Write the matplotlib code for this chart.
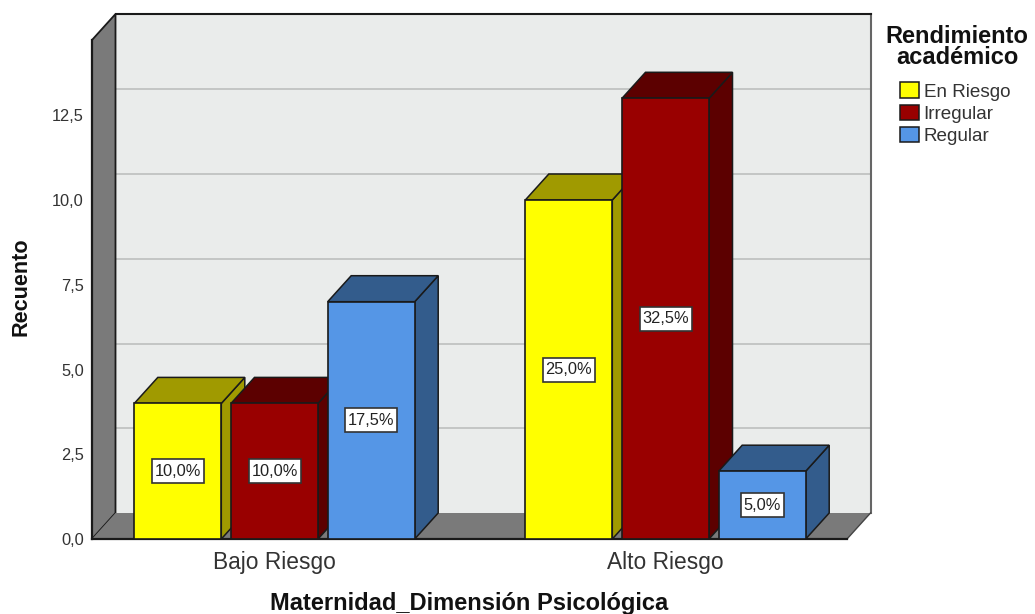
import matplotlib
matplotlib.use("Agg")
import matplotlib.pyplot as plt
from matplotlib.patches import Polygon, Rectangle, Patch

plt.rcParams['font.family'] = ['Liberation Sans', 'DejaVu Sans']

categories = ["Bajo Riesgo", "Alto Riesgo"]
series = ["En Riesgo", "Irregular", "Regular"]
en_riesgo = [4, 10]
irregular = [4, 13]
regular = [7, 2]
pct_en_riesgo = ["10,0%", "25,0%"]
pct_irregular = ["10,0%", "32,5%"]
pct_regular = ["17,5%", "5,0%"]
y_ticks = [0, 2.5, 5, 7.5, 10, 12.5]
y_labels = ["0,0", "2,5", "5,0", "7,5", "10,0", "12,5"]

W, H = 1035, 614
fig = plt.figure(figsize=(W / 100, H / 100), dpi=100)
L, R, T, B = 92, 847, 40, 539
ax = fig.add_axes([L / W, 1 - B / H, (R - L) / W, (B - T) / H])

unit_x = 391.0
unit_y = 33.9
ax.set_xlim((L - 274.5) / unit_x, (R - 274.5) / unit_x)
ax.set_ylim(0, (B - T) / unit_y)
x0, x1 = ax.get_xlim()
y1 = ax.get_ylim()[1]
dx = 23.5 / unit_x
dy = 26 / unit_y
bw = 87 / unit_x
step = 96.7 / unit_x

EDGE = "#1a1a1a"
kw = dict(clip_on=False)
# back wall, side wall, floor
ax.add_patch(Rectangle((x0 + dx, dy), x1 - x0, y1, fc="#EAECEB", ec="none", zorder=1, **kw))
ax.add_patch(Polygon([(x0, 0), (x0 + dx, dy), (x0 + dx, y1 + dy), (x0, y1)], fc="#7A7A7A", ec=EDGE, lw=1.3, zorder=2, **kw))
ax.add_patch(Polygon([(x0, 0), (x1, 0), (x1 + dx, dy), (x0 + dx, dy)], fc="#7A7A7A", ec="none", zorder=2, **kw))
for t in y_ticks[1:]:
    ax.plot([x0 + dx, x1 + dx], [t + dy, t + dy], color="#BDBFBE", lw=1.2, zorder=1.5, **kw)
ax.plot([x0 + dx, x1 + dx], [y1 + dy, y1 + dy], color=EDGE, lw=1.5, zorder=3, **kw)
ax.plot([x1 + dx, x1 + dx], [dy, y1 + dy], color="#666666", lw=1.5, zorder=1.6, **kw)
ax.plot([x1, x1 + dx], [0, dy], color="#444444", lw=1, zorder=2.5, **kw)

styles = [
    (en_riesgo, pct_en_riesgo, "#FFFF00", "#A09A00"),
    (irregular, pct_irregular, "#990000", "#5C0000"),
    (regular, pct_regular, "#5596E6", "#335C8C"),
]
box_w = 52 / unit_x
box_h = 24 / unit_y
z = 4
for c in range(len(categories)):
    for s, (vals, pcts, front, dark) in enumerate(styles):
        v = vals[c]
        left = c + (s - 1) * step - bw / 2
        right = left + bw
        mid = left + bw / 2
        ax.add_patch(Polygon([(right, 0), (right + dx, dy), (right + dx, v + dy), (right, v)], fc=dark, ec=EDGE, lw=1.1, zorder=z, **kw))
        ax.add_patch(Polygon([(left, v), (right, v), (right + dx, v + dy), (left + dx, v + dy)], fc=dark, ec=EDGE, lw=1.1, zorder=z, **kw))
        ax.bar(mid, v, width=bw, color=front, edgecolor=EDGE, linewidth=1.2, zorder=z + 0.1, clip_on=False)
        w = box_w if len(pcts[c]) > 4 else 43 / unit_x
        ax.add_patch(Rectangle((mid - w / 2, v / 2 - box_h / 2), w, box_h, fc="white", ec="#333333", lw=1.2, zorder=49, **kw))
        ax.text(mid, v / 2, pcts[c], ha="center", va="center", fontsize=11.8, color="#222222", zorder=50)
        z += 1

ax.set_xticks(range(len(categories)), categories, fontsize=16.4, color="#333333")
ax.set_yticks(y_ticks, y_labels, fontsize=11.8, color="#333333")
ax.tick_params(axis="y", length=0, pad=6)
ax.tick_params(axis="x", length=0, pad=8.5)
ax.set_xlabel("Maternidad_Dimensión Psicológica", fontsize=17, fontweight="bold", color="#111111")
ax.xaxis.set_label_coords(0.5, -(592 - B) / (B - T))
ax.xaxis.label.set_verticalalignment("top")
ax.set_ylabel("Recuento", fontsize=15.6, fontweight="bold", color="#111111")
ax.yaxis.set_label_coords((21.5 - L) / (R - L), 0.506)
ax.yaxis.label.set_verticalalignment("center")
ax.spines[["top", "right"]].set_visible(False)
for sp in ("left", "bottom"):
    ax.spines[sp].set_linewidth(1.6)
    ax.spines[sp].set_color(EDGE)
    ax.spines[sp].set_zorder(3)
ax.patch.set_visible(False)

handles = [Patch(fc=st[2], ec=EDGE, lw=1.1) for st in styles]
leg = fig.legend(handles, series, loc="upper left", bbox_to_anchor=(900 / W, 1 - 82.5 / H), frameon=False,
                 fontsize=13.6, handlelength=1.0, handleheight=0.9, handletextpad=0.25,
                 labelspacing=0.2, borderpad=0, borderaxespad=0, labelcolor="#333333")
fig.text(957 / W, 1 - 47 / H, "Rendimiento\nacadémico", ha="center", va="center", multialignment="center",
         fontsize=17, fontweight="bold", linespacing=0.92, color="#111111")

fig.savefig("out.png", dpi=100)
